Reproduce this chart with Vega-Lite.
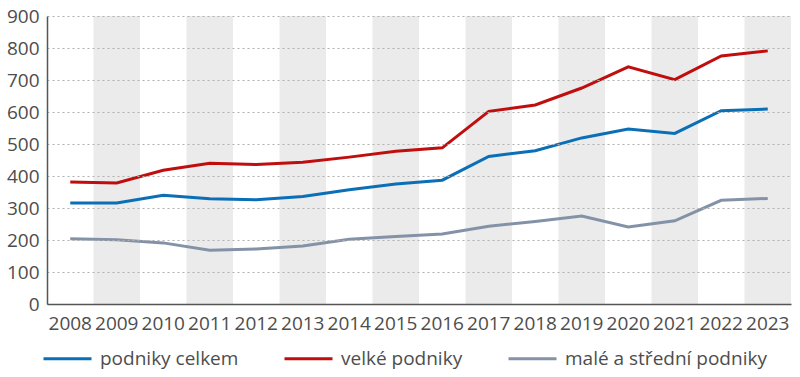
{
  "$schema": "https://vega.github.io/schema/vega-lite/v6.json",
  "width": 744,
  "height": 288,
  "autosize": "none",
  "padding": {"left": 47, "top": 16, "right": 9, "bottom": 73},
  "config": {
    "font": "Open Sans",
    "view": {"stroke": null},
    "axis": {"labelFont": "Open Sans", "labelFontSize": 19, "labelColor": "#4d4d4d"},
    "axisY": {"tickCount": 10, "labelOverlap": false, "domainColor": "#555555", "domainWidth": 1.5, "gridColor": "#b0b0b0", "gridDash": [2, 3], "ticks": false}
  },
  "datasets": {
    "bands": [
      {"year": 2009}, {"year": 2011}, {"year": 2013}, {"year": 2015},
      {"year": 2017}, {"year": 2019}, {"year": 2021}, {"year": 2023}
    ],
    "series": [
      {"year": 2008, "series": "podniky celkem", "value": 316},
      {"year": 2009, "series": "podniky celkem", "value": 316},
      {"year": 2010, "series": "podniky celkem", "value": 340},
      {"year": 2011, "series": "podniky celkem", "value": 329},
      {"year": 2012, "series": "podniky celkem", "value": 326},
      {"year": 2013, "series": "podniky celkem", "value": 336},
      {"year": 2014, "series": "podniky celkem", "value": 357},
      {"year": 2015, "series": "podniky celkem", "value": 375},
      {"year": 2016, "series": "podniky celkem", "value": 387},
      {"year": 2017, "series": "podniky celkem", "value": 461},
      {"year": 2018, "series": "podniky celkem", "value": 479},
      {"year": 2019, "series": "podniky celkem", "value": 519},
      {"year": 2020, "series": "podniky celkem", "value": 547},
      {"year": 2021, "series": "podniky celkem", "value": 533},
      {"year": 2022, "series": "podniky celkem", "value": 604},
      {"year": 2023, "series": "podniky celkem", "value": 609},
      {"year": 2008, "series": "velké podniky", "value": 381},
      {"year": 2009, "series": "velké podniky", "value": 378},
      {"year": 2010, "series": "velké podniky", "value": 418},
      {"year": 2011, "series": "velké podniky", "value": 440},
      {"year": 2012, "series": "velké podniky", "value": 436},
      {"year": 2013, "series": "velké podniky", "value": 443},
      {"year": 2014, "series": "velké podniky", "value": 459},
      {"year": 2015, "series": "velké podniky", "value": 477},
      {"year": 2016, "series": "velké podniky", "value": 488},
      {"year": 2017, "series": "velké podniky", "value": 602},
      {"year": 2018, "series": "velké podniky", "value": 622},
      {"year": 2019, "series": "velké podniky", "value": 675},
      {"year": 2020, "series": "velké podniky", "value": 741},
      {"year": 2021, "series": "velké podniky", "value": 701},
      {"year": 2022, "series": "velké podniky", "value": 775},
      {"year": 2023, "series": "velké podniky", "value": 791},
      {"year": 2008, "series": "malé a střední podniky", "value": 204},
      {"year": 2009, "series": "malé a střední podniky", "value": 201},
      {"year": 2010, "series": "malé a střední podniky", "value": 191},
      {"year": 2011, "series": "malé a střední podniky", "value": 168},
      {"year": 2012, "series": "malé a střední podniky", "value": 172},
      {"year": 2013, "series": "malé a střední podniky", "value": 181},
      {"year": 2014, "series": "malé a střední podniky", "value": 202},
      {"year": 2015, "series": "malé a střední podniky", "value": 211},
      {"year": 2016, "series": "malé a střední podniky", "value": 219},
      {"year": 2017, "series": "malé a střední podniky", "value": 243},
      {"year": 2018, "series": "malé a střední podniky", "value": 258},
      {"year": 2019, "series": "malé a střední podniky", "value": 275},
      {"year": 2020, "series": "malé a střední podniky", "value": 241},
      {"year": 2021, "series": "malé a střední podniky", "value": 260},
      {"year": 2022, "series": "malé a střední podniky", "value": 324},
      {"year": 2023, "series": "malé a střední podniky", "value": 330}
    ]
  },
  "layer": [
    {
      "data": {"name": "bands"},
      "mark": {"type": "rect", "color": "#ebebeb"},
      "encoding": {
        "x": {
          "field": "year", "type": "ordinal",
          "scale": {"paddingInner": 0, "paddingOuter": 0},
          "axis": {"title": null, "labelAngle": 0, "ticks": false, "bandPosition": 0.5, "labelPadding": 10, "labelOverlap": false, "domainColor": "#555555", "domainWidth": 1.5, "grid": false, "zindex": 1}
        }
      }
    },
    {
      "data": {"name": "series"},
      "mark": {"type": "line", "strokeWidth": 3},
      "encoding": {
        "x": {
          "field": "year", "type": "ordinal",
          "scale": {"paddingInner": 0, "paddingOuter": 0},
          "axis": {"title": null, "labelAngle": 0, "ticks": false, "bandPosition": 0.5, "labelPadding": 10, "labelOverlap": false, "domainColor": "#555555", "domainWidth": 1.5, "grid": false, "zindex": 1}
        },
        "y": {
          "field": "value", "type": "quantitative",
          "scale": {"domain": [0, 900], "nice": false},
          "axis": {"title": null, "values": [0,100,200,300,400,500,600,700,800,900], "tickCount": 10, "labelOverlap": false, "labelFlush": false, "ticks": false, "labelPadding": 8, "domain": true, "domainColor": "#555555", "domainWidth": 1.5, "grid": true, "gridColor": "#b0b0b0", "gridDash": [2, 3], "gridWidth": 1, "zindex": 1}
        },
        "color": {
          "field": "series", "type": "nominal",
          "sort": ["podniky celkem", "velké podniky", "malé a střední podniky"],
          "scale": {"domain": ["podniky celkem", "velké podniky", "malé a střední podniky"], "range": ["#0a6fb7", "#c00d0d", "#8492a8"]},
          "legend": {
            "title": null, "orient": "none", "direction": "horizontal", "columns": 3,
            "legendX": -5, "legendY": 317,
            "symbolType": "stroke", "symbolSize": 2304, "symbolStrokeWidth": 3,
            "labelFont": "Open Sans", "labelFontSize": 19, "labelColor": "#4d4d4d",
            "labelOffset": 7, "columnPadding": 39, "labelLimit": 300
          }
        }
      }
    }
  ]
}
